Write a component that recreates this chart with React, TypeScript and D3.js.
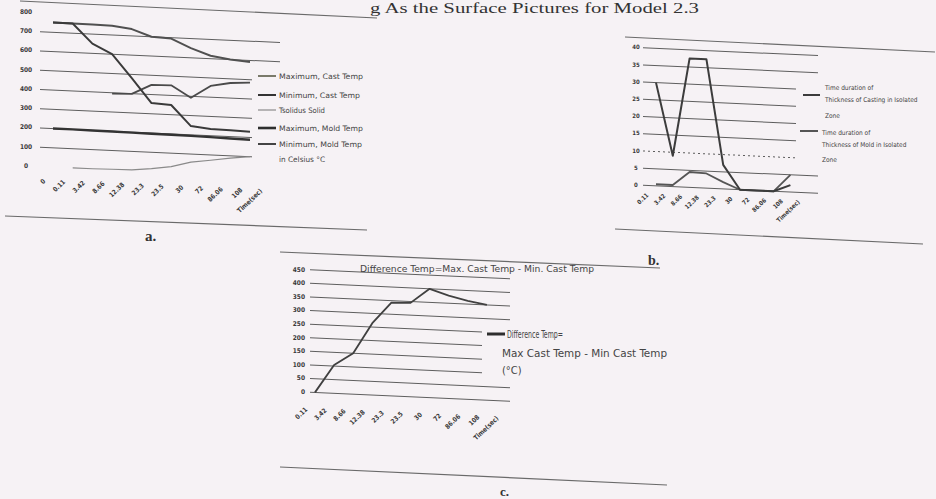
import React from "react";
import * as d3 from "d3";

const SKEW_DEG = 2.6;
const AXIS_TITLE = "Time(sec)";
const PAPER = "#f6f2f5";
const INK = "#3a3a3a";
const GRID = "#5e5e5e";
const NARROW = "'Liberation Sans Narrow', 'DejaVu Sans Condensed', 'Liberation Sans', sans-serif";
const SERIF = "'Liberation Serif', 'DejaVu Serif', serif";

// ---------- Chart a ----------
const catsA = ["0", "0.11", "3.42", "8.66", "12.38", "23.3", "23.5", "30", "72", "86.06", "108"];
const maxCastTempA = [750, 750, 750, 748, 735, 700, 695, 650, 615, 600, 592];
const minCastTempA = [750, 750, 650, 600, 480, 355, 350, 245, 235, 232, 230];
const tSolidusA = [null, null, null, 395, 398, 450, 452, 392, 458, 478, 485];
const maxMoldTempA = [200, 200, 199, 198, 197, 196, 195, 194, 192, 190, 188];
const minMoldTempA = [null, 0, 0, 2, 3, 15, 30, 58, 72, 88, 100];
const yTicksA = [0, 100, 200, 300, 400, 500, 600, 700, 800];
const gridA = [100, 200, 300, 400, 500, 600, 700];
const legendA = ["Maximum, Cast Temp", "Minimum, Cast Temp", "Tsolidus Solid", "Maximum, Mold Temp", "Minimum, Mold Temp"];
const legendA2 = "in Celsius °C";

// ---------- Chart b ----------
const catsB = ["0.11", "3.42", "8.66", "12.38", "23.3", "30", "72", "86.06", "108"];
const castIsolatedB = [30, 9, 37.5, 37.5, 7, 0, 0, 0, 2];
const moldIsolatedB = [0.5, 0.5, 4.5, 4.3, 2, 0, 0, 0, 5];
const yTicksB = [0, 5, 10, 15, 20, 25, 30, 35, 40];
const legendB1 = ["Time duration of", "Thickness of Casting in Isolated", "Zone"];
const legendB2 = ["Time duration of", "Thickness of Mold in Isolated", "Zone"];

// ---------- Chart c ----------
const catsC = ["0.11", "3.42", "8.66", "12.38", "23.3", "23.5", "30", "72", "86.06", "108"];
const diffTempC = [0, 104, 150, 264, 343, 345, 400, 378, 362, 350];
const yTicksC = [0, 50, 100, 150, 200, 250, 300, 350, 400, 450];
const titleC = "Difference Temp=Max. Cast Temp - Min. Cast Temp";
const legendC = ["Difference Temp=", "Max Cast Temp - Min Cast Temp", "(°C)"];

const pageTitle = "g As the Surface Pictures for Model 2.3";

type SeriesDef = { values: (number | null)[]; stroke: string; width: number };

function skewT(cx: number) {
  return `translate(${cx},0) skewY(${SKEW_DEG}) translate(${-cx},0)`;
}

function LineChart(p: {
  cats: string[];
  series: SeriesDef[];
  xStart: number;
  xStep: number;
  yMax: number;
  yZero: number;
  yTop: number;
  yTicks: number[];
  gridVals: number[];
  gridFrom: number;
  gridTo: number;
  cx: number;
  tickX: number;
  tickAnchor: string;
  tickFont: number;
  labelDx: number;
  labelDy: number;
  labelFont: number;
  dashed?: number[];
}) {
  const domain = [...p.cats, AXIS_TITLE];
  const x = d3
    .scalePoint<string>()
    .domain(domain)
    .range([p.xStart, p.xStart + p.xStep * (domain.length - 1)]);
  const y = d3.scaleLinear().domain([0, p.yMax]).range([p.yZero, p.yTop]);
  const line = d3
    .line<{ c: string; v: number | null }>()
    .defined((d) => d.v !== null)
    .x((d) => x(d.c) as number)
    .y((d) => y(d.v as number));
  return (
    <g>
      <g transform={skewT(p.cx)}>
        {p.gridVals.map((v) => (
          <line
            key={"g" + v}
            x1={p.gridFrom}
            x2={p.gridTo}
            y1={y(v)}
            y2={y(v)}
            stroke={GRID}
            strokeWidth={1}
            strokeDasharray={p.dashed && p.dashed.includes(v) ? "2 3" : undefined}
          />
        ))}
        {p.series.map((s, i) => (
          <path
            key={"s" + i}
            d={line(p.cats.map((c, j) => ({ c, v: s.values[j] }))) || ""}
            fill="none"
            stroke={s.stroke}
            strokeWidth={s.width}
            strokeLinejoin="round"
          />
        ))}
        {domain.map((c) => (
          <text
            key={"x" + c}
            transform={`translate(${(x(c) as number) + p.labelDx},${p.yZero + p.labelDy}) rotate(-45)`}
            textAnchor="end"
            fontSize={p.labelFont}
            fontFamily={NARROW}
            fontWeight={600}
            fill={INK}
          >
            {c}
          </text>
        ))}
      </g>
      {p.yTicks.map((v) => (
        <text
          key={"y" + v}
          x={p.tickX}
          y={y(v)}
          dy="0.35em"
          textAnchor={p.tickAnchor}
          fontSize={p.tickFont}
          fontFamily={NARROW}
          fontWeight={600}
          fill={INK}
        >
          {v}
        </text>
      ))}
    </g>
  );
}

export default function App() {
  const legStyle = { fontFamily: NARROW, fill: "#444" } as const;
  return (
    <svg
      width={936}
      height={499}
      viewBox="0 0 936 499"
      style={{ position: "absolute", left: 0, top: 0, background: PAPER }}
    >
      <rect x={0} y={0} width={936} height={499} fill={PAPER} />

      {/* page title */}
      <text x={370} y={13} fontFamily={SERIF} fontSize={15} fill="#333" textLength={329} lengthAdjust="spacingAndGlyphs">
        {pageTitle}
      </text>

      {/* page rules */}
      <g stroke="#6a6a6a" strokeWidth={1.2}>
        <line x1={20} y1={1} x2={377} y2={18} />
        <line x1={5} y1={216} x2={367} y2={230} />
        <line x1={625} y1={37} x2={935} y2={52} />
        <line x1={615} y1={229} x2={923} y2={244} />
        <line x1={280} y1={252} x2={660} y2={268} />
        <line x1={280} y1={467} x2={667} y2={485} />
      </g>

      {/* ---------- chart a ---------- */}
      <LineChart
        cats={catsA}
        series={[
          { values: tSolidusA, stroke: "#4a4a4a", width: 1.8 },
          { values: maxMoldTempA, stroke: "#333", width: 2.4 },
          { values: minMoldTempA, stroke: "#8a8a8a", width: 1.2 },
          { values: maxCastTempA, stroke: "#505050", width: 2 },
          { values: minCastTempA, stroke: "#3a3a3a", width: 2 },
        ]}
        xStart={53}
        xStep={19.7}
        yMax={800}
        yZero={165.7}
        yTop={11.7}
        yTicks={yTicksA}
        gridVals={gridA}
        gridFrom={40}
        gridTo={280}
        cx={25}
        tickX={26}
        tickAnchor="middle"
        tickFont={6.5}
        labelDx={-7}
        labelDy={15}
        labelFont={6.5}
      />
      <rect x={252} y={66} width={122} height={104} fill={PAPER} />
      {legendA.map((t, i) => {
        const ys = [76, 95, 110, 128, 144];
        const ws = [84, 81, 46, 84, 83];
        const strokes = ["#7a7a6a", "#333", "#777", "#2e2e2e", "#444"];
        const sw = [2, 2, 1, 2.6, 2];
        return (
          <g key={"la" + i}>
            <line x1={258} x2={276} y1={ys[i]} y2={ys[i]} stroke={strokes[i]} strokeWidth={sw[i]} />
            <text x={279} y={ys[i]} dy="0.35em" fontSize={7.5} textLength={ws[i]} lengthAdjust="spacingAndGlyphs" {...legStyle}>
              {t}
            </text>
          </g>
        );
      })}
      <text x={279} y={159} dy="0.35em" fontSize={7.5} textLength={46} lengthAdjust="spacingAndGlyphs" {...legStyle}>
        {legendA2}
      </text>
      <text x={145} y={241} fontFamily={SERIF} fontWeight={700} fontSize={15} fill="#333">
        a.
      </text>

      {/* ---------- chart b ---------- */}
      <LineChart
        cats={catsB}
        series={[
          { values: moldIsolatedB, stroke: "#555", width: 1.8 },
          { values: castIsolatedB, stroke: "#3c3c3c", width: 2 },
        ]}
        xStart={656}
        xStep={16.8}
        yMax={40}
        yZero={185}
        yTop={47.3}
        yTicks={yTicksB}
        gridVals={yTicksB}
        gridFrom={643}
        gridTo={818}
        cx={635}
        tickX={636}
        tickAnchor="middle"
        tickFont={6}
        labelDx={-7}
        labelDy={10}
        labelFont={6}
        dashed={[10]}
      />
      <rect x={796} y={80} width={140} height={84} fill={PAPER} />
      <line x1={803} x2={820} y1={95} y2={95} stroke="#3c3c3c" strokeWidth={2} />
      {legendB1.map((t, i) => (
        <text key={"lb1" + i} x={825} y={[88, 100, 116][i]} dy="0.35em" fontSize={6.5} {...legStyle}>
          {t}
        </text>
      ))}
      <line x1={800} x2={818} y1={131} y2={131} stroke="#555" strokeWidth={2} />
      {legendB2.map((t, i) => (
        <text key={"lb2" + i} x={822} y={[133, 145, 160][i]} dy="0.35em" fontSize={6.5} {...legStyle}>
          {t}
        </text>
      ))}
      <text x={648} y={265} fontFamily={SERIF} fontWeight={700} fontSize={14} fill="#333">
        b.
      </text>

      {/* ---------- chart c ---------- */}
      <LineChart
        cats={catsC}
        series={[{ values: diffTempC, stroke: "#404040", width: 1.8 }]}
        xStart={315}
        xStep={19.1}
        yMax={450}
        yZero={391.7}
        yTop={269.3}
        yTicks={yTicksC}
        gridVals={yTicksC}
        gridFrom={310}
        gridTo={510}
        cx={300}
        tickX={305}
        tickAnchor="end"
        tickFont={6.5}
        labelDx={-7}
        labelDy={18}
        labelFont={6.5}
      />
      <rect x={482} y={322} width={200} height={62} fill={PAPER} />
      <text x={360} y={272} fontSize={9} textLength={234} lengthAdjust="spacingAndGlyphs" {...legStyle}>
        {titleC}
      </text>
      <line x1={487} x2={505} y1={334} y2={334} stroke="#2e2e2e" strokeWidth={3} />
      <text x={507} y={338} fontSize={11} textLength={56} lengthAdjust="spacingAndGlyphs" {...legStyle}>
        {legendC[0]}
      </text>
      <text x={502} y={357} fontSize={11} textLength={165} lengthAdjust="spacingAndGlyphs" {...legStyle}>
        {legendC[1]}
      </text>
      <text x={502} y={374} fontSize={11} {...legStyle}>
        {legendC[2]}
      </text>
      <text x={500} y={496} fontFamily={SERIF} fontWeight={700} fontSize={13} fill="#333">
        c.
      </text>
    </svg>
  );
}
